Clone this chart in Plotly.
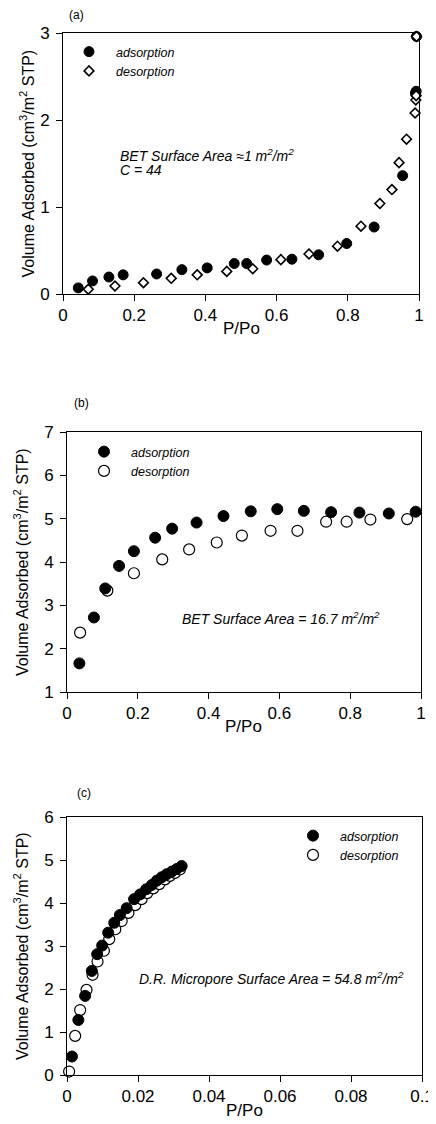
import plotly.graph_objects as go

# page is 436x1124; the html body has an 8px default margin, so the figure
# itself starts 8px in from the top-left corner of the page.
PAGE_W, PAGE_H = 436, 1124
OFF = 8
W, H = PAGE_W - OFF, PAGE_H - OFF

# ---------------- data ----------------
# panel (a)
a_ads_x = [0.043, 0.083, 0.129, 0.169, 0.263, 0.334, 0.405, 0.481, 0.516, 0.572,
           0.643, 0.718, 0.797, 0.874, 0.954, 0.990, 0.992, 0.993]
a_ads_y = [0.07, 0.15, 0.195, 0.22, 0.23, 0.28, 0.30, 0.35, 0.35, 0.39,
           0.40, 0.45, 0.58, 0.77, 1.36, 2.31, 2.33, 2.96]
a_des_x = [0.071, 0.146, 0.226, 0.304, 0.377, 0.460, 0.533, 0.612, 0.691, 0.771,
           0.837, 0.890, 0.924, 0.944, 0.965, 0.989, 0.991, 0.992, 0.993]
a_des_y = [0.054, 0.092, 0.13, 0.18, 0.22, 0.26, 0.29, 0.395, 0.46, 0.55,
           0.78, 1.04, 1.20, 1.51, 1.78, 2.08, 2.23, 2.28, 2.96]

# panel (b)
b_ads_x = [0.035, 0.076, 0.108, 0.147, 0.189, 0.249, 0.297, 0.366, 0.442, 0.519,
           0.594, 0.669, 0.746, 0.826, 0.909, 0.985]
b_ads_y = [1.66, 2.72, 3.39, 3.91, 4.25, 4.56, 4.77, 4.91, 5.06, 5.17,
           5.22, 5.18, 5.15, 5.14, 5.12, 5.16]
b_des_x = [0.037, 0.114, 0.189, 0.269, 0.345, 0.423, 0.494, 0.575, 0.651, 0.732,
           0.790, 0.857, 0.961]
b_des_y = [2.37, 3.34, 3.74, 4.06, 4.29, 4.45, 4.61, 4.72, 4.72, 4.93,
           4.93, 4.98, 4.99]

# panel (c)
c_ads_x = [0.0014, 0.0032, 0.0051, 0.0070, 0.0085, 0.0099, 0.0116, 0.0133, 0.0149,
           0.0168, 0.0189, 0.0206, 0.0223, 0.0239, 0.0253, 0.0267, 0.0281, 0.0295,
           0.0309, 0.0323]
c_ads_y = [0.43, 1.28, 1.84, 2.42, 2.81, 3.01, 3.31, 3.54, 3.72,
           3.88, 4.09, 4.20, 4.32, 4.42, 4.52, 4.60, 4.67, 4.73,
           4.79, 4.86]
c_des_x = [0.0006, 0.0023, 0.0037, 0.0055, 0.0072, 0.0086, 0.0104, 0.0119, 0.0136,
           0.0154, 0.0173, 0.0192, 0.0210, 0.0226, 0.0243, 0.0260, 0.0276, 0.0290,
           0.0304, 0.0318]
c_des_y = [0.08, 0.91, 1.51, 1.98, 2.33, 2.64, 2.89, 3.16, 3.39,
           3.58, 3.77, 3.95, 4.09, 4.23, 4.34, 4.44, 4.55, 4.63,
           4.70, 4.78]

x_ticks_ab = [0, 0.2, 0.4, 0.6, 0.8, 1]
x_ticks_c = [0, 0.02, 0.04, 0.06, 0.08, 0.1]
y_ticks_a = [0, 1, 2, 3]
y_ticks_b = [1, 2, 3, 4, 5, 6, 7]
y_ticks_c = [0, 1, 2, 3, 4, 5, 6]

series_names = ["adsorption", "desorption"]
panel_labels = ["(a)", "(b)", "(c)"]
y_title = "Volume Adsorbed (cm<sup>3</sup>/m<sup>2</sup> STP)"
x_title = "P/Po"
note_a1 = "BET Surface Area \u22481 m<sup>2</sup>/m<sup>2</sup>"
note_a2 = "C = 44"
note_b = "BET Surface Area = 16.7 m<sup>2</sup>/m<sup>2</sup>"
note_c = "D.R. Micropore Surface Area = 54.8 m<sup>2</sup>/m<sup>2</sup>"

# ---------------- layout geometry (page pixels) ----------------
FONT = "Liberation Sans, Arial, sans-serif"
panels = {
    "a": dict(x0=63, x1=419, y0=33, y1=294, lab=(67, 15), ytx=27),
    "b": dict(x0=67, x1=421, y0=432, y1=692, lab=(72, 403), ytx=21),
    "c": dict(x0=67, x1=422, y0=817, y1=1075, lab=(75, 793), ytx=21),
}


def px(x):
    return (x - OFF) / W


def py(y):
    return 1 - (y - OFF) / H


def xdom(p):
    return [px(p["x0"]), px(p["x1"])]


def ydom(p):
    return [py(p["y1"]), py(p["y0"])]


fig = go.Figure()

filled = dict(symbol="circle", size=11, color="black", line=dict(color="black", width=1))
open_c = dict(symbol="circle", size=11, color="white", line=dict(color="black", width=1.2))
open_d = dict(symbol="diamond", size=7.5, color="white", line=dict(color="black", width=1.6))

# panel a
fig.add_trace(go.Scatter(x=a_ads_x, y=a_ads_y, mode="markers", marker=dict(filled, size=10), name=series_names[0],
                         xaxis="x", yaxis="y", legend="legend", legendrank=1, cliponaxis=False))
fig.add_trace(go.Scatter(x=a_des_x, y=a_des_y, mode="markers", marker=open_d, name=series_names[1],
                         xaxis="x", yaxis="y", legend="legend", legendrank=2, cliponaxis=False))
# panel b
fig.add_trace(go.Scatter(x=b_des_x, y=b_des_y, mode="markers", marker=open_c, name=series_names[1],
                         xaxis="x2", yaxis="y2", legend="legend2", legendrank=2, cliponaxis=False))
fig.add_trace(go.Scatter(x=b_ads_x, y=b_ads_y, mode="markers", marker=filled, name=series_names[0],
                         xaxis="x2", yaxis="y2", legend="legend2", legendrank=1, cliponaxis=False))
# panel c
fig.add_trace(go.Scatter(x=c_des_x, y=c_des_y, mode="markers", marker=open_c, name=series_names[1],
                         xaxis="x3", yaxis="y3", legend="legend3", legendrank=2, cliponaxis=False))
fig.add_trace(go.Scatter(x=c_ads_x, y=c_ads_y, mode="markers", marker=filled, name=series_names[0],
                         xaxis="x3", yaxis="y3", legend="legend3", legendrank=1, cliponaxis=False))

axis_common = dict(showline=True, linecolor="black", linewidth=1, mirror=True,
                   showgrid=False, zeroline=False, ticks="outside", ticklen=6,
                   tickwidth=1, tickcolor="black", automargin=False,
                   tickfont=dict(family=FONT, size=17, color="black"))
yaxis_extra = dict(ticklabelstandoff=3)

fig.update_layout(
    width=W, height=H,
    margin=dict(l=0, r=0, t=0, b=0, autoexpand=False),
    paper_bgcolor="white", plot_bgcolor="white",
    font=dict(family=FONT, color="black"),
    xaxis=dict(axis_common, domain=xdom(panels["a"]), range=[0, 1], tickvals=x_ticks_ab, anchor="y"),
    yaxis=dict(axis_common, **yaxis_extra, domain=ydom(panels["a"]), range=[0, 3], tickvals=y_ticks_a, anchor="x"),
    xaxis2=dict(axis_common, domain=xdom(panels["b"]), range=[0, 1], tickvals=x_ticks_ab, anchor="y2"),
    yaxis2=dict(axis_common, **yaxis_extra, domain=ydom(panels["b"]), range=[1, 7], tickvals=y_ticks_b, anchor="x2"),
    xaxis3=dict(axis_common, domain=xdom(panels["c"]), range=[0, 0.1], tickvals=x_ticks_c, anchor="y3"),
    yaxis3=dict(axis_common, **yaxis_extra, domain=ydom(panels["c"]), range=[0, 6], tickvals=y_ticks_c, anchor="x3"),
)

legend_common = dict(bgcolor="rgba(0,0,0,0)", borderwidth=0, itemwidth=44,
                     font=dict(family=FONT, size=12.5, color="black"),
                     xanchor="left", yanchor="top", traceorder="normal",
                     tracegroupgap=0, itemclick=False, itemdoubleclick=False)
# legend boxes placed so the first marker lands at the reference position (page px)
leg_pos = {"legend": (88, 52), "legend2": (103, 452), "legend3": (312, 836)}
for name, (mx, my) in leg_pos.items():
    fig.update_layout({name: dict(legend_common,
                                  x=px(mx - 26),
                                  y=py(my - 15))})

for tr in fig.data:
    tr.name = "<i>" + tr.name + "</i>"

ann = []
for key, lab in zip(["a", "b", "c"], panel_labels):
    p = panels[key]
    ann.append(dict(xref="paper", yref="paper", x=px(p["lab"][0]), y=py(p["lab"][1]),
                    text=lab, showarrow=False, xanchor="left", yanchor="middle",
                    font=dict(family=FONT, size=12, color="black")))
    ann.append(dict(xref="paper", yref="paper", x=px(p["ytx"]), y=py((p["y0"] + p["y1"]) / 2),
                    text=y_title, textangle=-90, showarrow=False, xanchor="center", yanchor="middle",
                    font=dict(family=FONT, size=16, color="black")))
    ann.append(dict(xref="paper", yref="paper", x=px((p["x0"] + p["x1"]) / 2), y=py(p["y1"] + 35),
                    text=x_title, showarrow=False, xanchor="center", yanchor="middle",
                    font=dict(family=FONT, size=17, color="black")))

note_font = dict(family=FONT, size=14, color="black")
ann.append(dict(xref="x", yref="y", x=0.155, y=1.6, text="<i>" + note_a1 + "</i>", showarrow=False,
                xanchor="left", yanchor="middle", font=note_font))
ann.append(dict(xref="x", yref="y", x=0.155, y=1.43, text="<i>" + note_a2 + "</i>", showarrow=False,
                xanchor="left", yanchor="middle", font=note_font))
ann.append(dict(xref="x2", yref="y2", x=0.319, y=2.7, text="<i>" + note_b + "</i>", showarrow=False,
                xanchor="left", yanchor="middle", font=note_font))
ann.append(dict(xref="x3", yref="y3", x=0.0196, y=2.25, text="<i>" + note_c + "</i>", showarrow=False,
                xanchor="left", yanchor="middle", font=note_font))
fig.update_layout(annotations=ann)

fig.write_html("out.html")
